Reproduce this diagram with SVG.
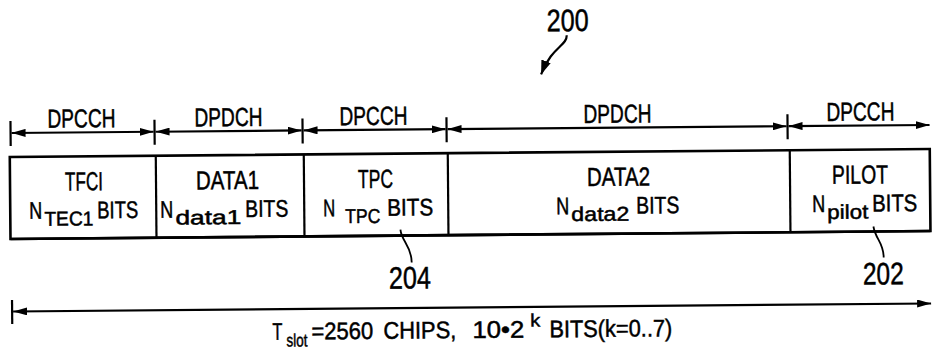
<svg xmlns="http://www.w3.org/2000/svg" width="932" height="357" viewBox="0 0 932 357">
<defs>
<marker id="ah" viewBox="0 0 14 8" refX="14" refY="4" markerWidth="14" markerHeight="8" markerUnits="userSpaceOnUse" orient="auto-start-reverse"><path d="M0,0 L14,4 L0,8 z" fill="#000"/></marker>
<marker id="ah2" viewBox="0 0 14 10" refX="14" refY="5" markerWidth="14" markerHeight="10" markerUnits="userSpaceOnUse" orient="auto"><path d="M0,0 L14,5 L0,10 z" fill="#000"/></marker>
<style>
text{font-family:"Liberation Sans",Arial,sans-serif;fill:#000;stroke:#000;stroke-width:0.5}
.lab{font-size:26px}
.t1{font-size:26px}
.t2{font-size:24px}
.sub{font-size:20px}
.num{font-size:31px}
.bt{font-size:24px}
.bs{font-size:18px}
.ln{stroke:#000;stroke-width:2.2;fill:none}
.arr{stroke:#000;stroke-width:2.2;fill:none;marker-start:url(#ah);marker-end:url(#ah)}
.box{stroke:#000;stroke-width:2.6;fill:none}
.lead{stroke:#000;stroke-width:1.8;fill:none}
</style>
</defs>
<rect width="932" height="357" fill="#fff"/>
<g transform="rotate(-0.5 470 180)">
<g id="connectors">
<path class="ln" d="M11,117 V142 M155,117 V142 M303,117 V142 M447,117 V142 M788,117 V142"/>
<path class="arr" d="M12,129 H154"/>
<path class="arr" d="M156,129 H302"/>
<path class="arr" d="M304,129 H446"/>
<path class="arr" d="M448,129 H787"/>
<path class="ln" d="M789,129 H930" marker-start="url(#ah)" marker-end="url(#ah)"/>
<path class="ln" d="M11,296 V320"/>
<path class="ln" d="M12,307.5 H930" marker-start="url(#ah)" marker-end="url(#ah)"/>
<path class="lead" d="M400,229 C401,241 411,245 411,262"/>
<path class="lead" d="M873,230 C875,243 883,246 883,261"/>
<path class="ln" d="M568,36 C568,47 553,47 542,75" marker-end="url(#ah2)"/>
</g>
<g id="channel-labels">
<text class="lab" x="48" y="124" textLength="68" lengthAdjust="spacingAndGlyphs">DPCCH</text>
<text class="lab" x="195" y="124" textLength="68" lengthAdjust="spacingAndGlyphs">DPDCH</text>
<text class="lab" x="340" y="124" textLength="68" lengthAdjust="spacingAndGlyphs">DPCCH</text>
<text class="lab" x="584" y="124" textLength="68" lengthAdjust="spacingAndGlyphs">DPDCH</text>
<text class="lab" x="827" y="124" textLength="68" lengthAdjust="spacingAndGlyphs">DPCCH</text>
</g>
<g id="slot-box">
<path class="box" d="M10,153 H930 V235 H10 Z"/>
<path class="box" d="M10,235 H930" stroke-width="3.2"/>
</g>
<g id="field-tfci">
<path class="ln" d="M156,153 V235"/>
<text class="t1" x="65" y="187" textLength="38" lengthAdjust="spacingAndGlyphs">TFCI</text>
<text class="t2" y="215"><tspan x="29" textLength="13" lengthAdjust="spacingAndGlyphs">N</tspan><tspan class="sub" x="44" y="222" textLength="49" lengthAdjust="spacingAndGlyphs">TEC1</tspan><tspan x="97" y="215" textLength="41" lengthAdjust="spacingAndGlyphs">BITS</tspan></text>
</g>
<g id="field-data1">
<path class="ln" d="M304,153 V235"/>
<text class="t1" x="196" y="187" textLength="63" lengthAdjust="spacingAndGlyphs">DATA1</text>
<text class="t2" y="215"><tspan x="160" textLength="13" lengthAdjust="spacingAndGlyphs">N</tspan><tspan class="sub" x="175" y="222" textLength="66" lengthAdjust="spacingAndGlyphs">data1</tspan><tspan x="245" y="215" textLength="43" lengthAdjust="spacingAndGlyphs">BITS</tspan></text>
</g>
<g id="field-tpc">
<path class="ln" d="M448,153 V235"/>
<text class="t1" x="358" y="187" textLength="35" lengthAdjust="spacingAndGlyphs">TPC</text>
<text class="t2" y="215"><tspan x="323" textLength="12" lengthAdjust="spacingAndGlyphs">N</tspan><tspan class="sub" x="345" y="222" textLength="35" lengthAdjust="spacingAndGlyphs">TPC</tspan><tspan x="387" y="215" textLength="46" lengthAdjust="spacingAndGlyphs">BITS</tspan></text>
</g>
<g id="field-data2">
<path class="ln" d="M790,153 V235"/>
<text class="t1" x="587" y="187" textLength="63" lengthAdjust="spacingAndGlyphs">DATA2</text>
<text class="t2" y="215"><tspan x="556" textLength="13" lengthAdjust="spacingAndGlyphs">N</tspan><tspan class="sub" x="571" y="222" textLength="58" lengthAdjust="spacingAndGlyphs">data2</tspan><tspan x="636" y="215" textLength="43" lengthAdjust="spacingAndGlyphs">BITS</tspan></text>
</g>
<g id="field-pilot">
<text class="t1" x="832" y="187" textLength="56" lengthAdjust="spacingAndGlyphs">PILOT</text>
<text class="t2" y="215"><tspan x="812" textLength="13" lengthAdjust="spacingAndGlyphs">N</tspan><tspan class="sub" x="827" y="222" textLength="41" lengthAdjust="spacingAndGlyphs">pilot</tspan><tspan x="872" y="215" textLength="45" lengthAdjust="spacingAndGlyphs">BITS</tspan></text>
</g>
<g id="refs">
<text class="num" x="548" y="32" textLength="42" lengthAdjust="spacingAndGlyphs">200</text>
<text class="num" x="388" y="288" textLength="42" lengthAdjust="spacingAndGlyphs">204</text>
<text class="num" x="862" y="288" textLength="41" lengthAdjust="spacingAndGlyphs">202</text>
</g>
<g id="slot-label">
<text class="bt" y="338"><tspan x="271" textLength="10" lengthAdjust="spacingAndGlyphs">T</tspan><tspan class="bs" x="285" y="345" textLength="21" lengthAdjust="spacingAndGlyphs">slot</tspan><tspan x="310" y="338" textLength="62" lengthAdjust="spacingAndGlyphs">=2560</tspan><tspan x="382" textLength="73" lengthAdjust="spacingAndGlyphs">CHIPS,</tspan><tspan x="471" textLength="52" lengthAdjust="spacingAndGlyphs">10•2</tspan><tspan class="bs" x="529" y="327" textLength="10" lengthAdjust="spacingAndGlyphs">k</tspan><tspan x="548" y="338" textLength="123" lengthAdjust="spacingAndGlyphs">BITS(k=0..7)</tspan></text>
</g>
</g>
</svg>
